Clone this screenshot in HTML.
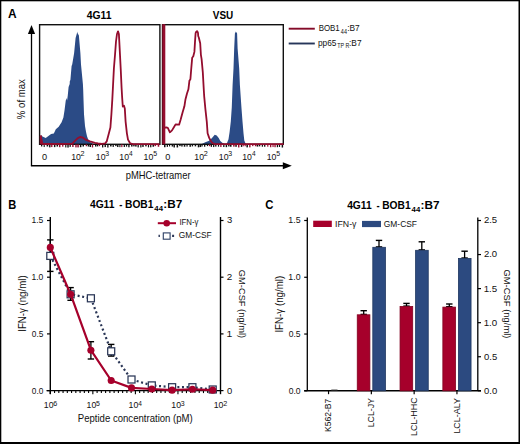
<!DOCTYPE html>
<html><head><meta charset="utf-8"><style>
html,body{margin:0;padding:0;background:#fff;}
body{width:520px;height:444px;overflow:hidden;}
svg{display:block;font-family:'Liberation Sans', sans-serif;}
</style></head><body>
<svg width="520" height="444" viewBox="0 0 520 444">
<rect width="520" height="444" fill="#fff"/>
<rect x="0" y="0" width="520" height="1.3" fill="#000"/>
<rect x="0" y="0" width="1.3" height="444" fill="#000"/>
<rect x="518.5" y="0" width="1.5" height="444" fill="#000"/>
<rect x="0" y="442" width="520" height="2" fill="#000"/>
<text x="8.00" y="18.20" font-size="12.2" font-weight="bold" fill="#000" textLength="8.61" lengthAdjust="spacingAndGlyphs">A</text>
<text x="8.25" y="208.60" font-size="12.2" font-weight="bold" fill="#000" textLength="8.05" lengthAdjust="spacingAndGlyphs">B</text>
<text x="265.14" y="208.70" font-size="12.6" font-weight="bold" fill="#000" textLength="8.17" lengthAdjust="spacingAndGlyphs">C</text>
<text x="86.75" y="18.60" font-size="10" font-weight="bold" fill="#000" textLength="24.73" lengthAdjust="spacingAndGlyphs">4G11</text>
<text x="212.83" y="18.60" font-size="10" font-weight="bold" fill="#000" textLength="20.48" lengthAdjust="spacingAndGlyphs">VSU</text>
<polygon points="41.00,144.30 41.00,135.00 42.50,136.50 45.70,138.00 48.40,136.10 51.10,134.00 53.80,133.40 54.90,131.20 55.80,129.20 58.70,126.80 61.60,122.20 63.40,117.50 64.50,110.40 65.70,101.10 66.30,98.10 67.10,100.50 67.80,95.20 68.60,87.00 69.70,84.00 69.80,81.20 70.40,80.00 71.60,66.00 72.20,64.60 74.10,53.20 75.60,38.00 76.30,35.60 77.00,33.00 77.20,31.60 77.50,33.00 78.90,35.60 79.10,38.00 80.40,53.20 81.00,64.60 82.90,84.00 83.20,90.00 83.50,99.60 84.00,114.30 85.00,126.00 86.00,131.80 87.00,136.20 88.00,139.10 90.00,142.00 93.00,143.80 96.00,144.30" fill="#2b4b86"/>
<polygon points="201.30,144.30 205.30,142.20 209.20,140.70 212.00,137.90 214.70,134.70 216.70,135.50 218.70,137.90 220.30,141.00 222.60,143.00 225.00,144.30" fill="#2b4b86"/>
<polygon points="226.50,144.30 228.50,139.20 229.60,131.90 230.80,121.60 231.80,107.00 232.60,85.00 233.50,68.50 234.20,48.30 234.90,33.50 235.90,31.60 237.10,33.50 237.60,48.30 239.20,68.50 239.90,85.00 241.40,107.00 242.50,121.60 243.50,133.30 244.30,140.60 245.50,143.60 247.00,144.30" fill="#2b4b86"/>
<rect x="39.6" y="24.7" width="120.3" height="119.60" fill="none" stroke="#111" stroke-width="1.4"/>
<rect x="162.5" y="24.7" width="120.8" height="119.60" fill="none" stroke="#111" stroke-width="1.4"/>
<rect x="41.00" y="144.30" width="1.28" height="2.16" fill="#111"/>
<rect x="43.65" y="144.30" width="1.11" height="2.74" fill="#111"/>
<rect x="46.62" y="144.30" width="1.60" height="2.19" fill="#111"/>
<rect x="49.08" y="144.30" width="1.42" height="3.05" fill="#111"/>
<rect x="51.09" y="144.30" width="1.36" height="2.75" fill="#940d2e"/>
<rect x="53.92" y="144.30" width="1.48" height="2.81" fill="#111"/>
<rect x="56.55" y="144.30" width="1.53" height="2.25" fill="#111"/>
<rect x="59.01" y="144.30" width="1.46" height="2.88" fill="#940d2e"/>
<rect x="62.10" y="144.30" width="1.32" height="2.39" fill="#940d2e"/>
<rect x="65.21" y="144.30" width="1.17" height="3.12" fill="#111"/>
<rect x="67.32" y="144.30" width="1.41" height="3.25" fill="#111"/>
<rect x="69.54" y="144.30" width="1.28" height="2.56" fill="#111"/>
<rect x="72.16" y="144.30" width="1.44" height="2.68" fill="#940d2e"/>
<rect x="75.26" y="144.30" width="1.44" height="3.08" fill="#940d2e"/>
<rect x="77.29" y="144.30" width="1.55" height="3.09" fill="#940d2e"/>
<rect x="79.88" y="144.30" width="1.52" height="2.87" fill="#111"/>
<rect x="82.49" y="144.30" width="1.53" height="2.23" fill="#111"/>
<rect x="85.67" y="144.30" width="1.31" height="1.93" fill="#940d2e"/>
<rect x="87.68" y="144.30" width="1.54" height="2.24" fill="#111"/>
<rect x="89.55" y="144.30" width="1.46" height="2.72" fill="#111"/>
<rect x="91.81" y="144.30" width="1.35" height="3.12" fill="#940d2e"/>
<rect x="95.01" y="144.30" width="1.40" height="2.26" fill="#111"/>
<rect x="96.85" y="144.30" width="1.41" height="2.10" fill="#111"/>
<rect x="98.87" y="144.30" width="1.26" height="1.86" fill="#940d2e"/>
<rect x="102.01" y="144.30" width="1.33" height="3.14" fill="#111"/>
<rect x="104.54" y="144.30" width="1.38" height="2.77" fill="#111"/>
<rect x="107.21" y="144.30" width="1.32" height="3.21" fill="#111"/>
<rect x="110.02" y="144.30" width="1.59" height="2.16" fill="#111"/>
<rect x="112.55" y="144.30" width="1.31" height="2.62" fill="#111"/>
<rect x="115.16" y="144.30" width="1.42" height="1.83" fill="#111"/>
<rect x="117.04" y="144.30" width="1.44" height="2.74" fill="#111"/>
<rect x="119.34" y="144.30" width="1.11" height="2.86" fill="#111"/>
<rect x="121.22" y="144.30" width="1.23" height="2.81" fill="#940d2e"/>
<rect x="123.66" y="144.30" width="1.28" height="2.69" fill="#111"/>
<rect x="125.90" y="144.30" width="1.25" height="2.35" fill="#111"/>
<rect x="128.22" y="144.30" width="1.38" height="2.96" fill="#111"/>
<rect x="131.05" y="144.30" width="1.50" height="2.27" fill="#111"/>
<rect x="133.19" y="144.30" width="1.45" height="2.08" fill="#111"/>
<rect x="135.13" y="144.30" width="1.52" height="2.28" fill="#111"/>
<rect x="137.54" y="144.30" width="1.27" height="3.08" fill="#111"/>
<rect x="140.25" y="144.30" width="1.21" height="3.13" fill="#111"/>
<rect x="142.22" y="144.30" width="1.50" height="2.59" fill="#111"/>
<rect x="145.20" y="144.30" width="1.50" height="2.08" fill="#111"/>
<rect x="147.90" y="144.30" width="1.16" height="3.01" fill="#111"/>
<rect x="150.11" y="144.30" width="1.27" height="2.99" fill="#111"/>
<rect x="152.49" y="144.30" width="1.56" height="2.43" fill="#111"/>
<rect x="154.51" y="144.30" width="1.54" height="1.81" fill="#940d2e"/>
<rect x="157.69" y="144.30" width="1.56" height="2.45" fill="#940d2e"/>
<rect x="164.00" y="144.30" width="1.52" height="2.92" fill="#111"/>
<rect x="166.73" y="144.30" width="1.24" height="2.58" fill="#111"/>
<rect x="169.01" y="144.30" width="1.13" height="2.14" fill="#111"/>
<rect x="171.63" y="144.30" width="1.51" height="2.23" fill="#111"/>
<rect x="173.49" y="144.30" width="1.45" height="3.16" fill="#111"/>
<rect x="176.59" y="144.30" width="1.55" height="3.14" fill="#111"/>
<rect x="179.19" y="144.30" width="1.47" height="1.82" fill="#111"/>
<rect x="181.23" y="144.30" width="1.43" height="2.25" fill="#111"/>
<rect x="183.77" y="144.30" width="1.57" height="2.42" fill="#111"/>
<rect x="186.43" y="144.30" width="1.23" height="2.31" fill="#111"/>
<rect x="189.43" y="144.30" width="1.49" height="2.52" fill="#111"/>
<rect x="191.73" y="144.30" width="1.37" height="2.10" fill="#111"/>
<rect x="194.67" y="144.30" width="1.50" height="2.06" fill="#111"/>
<rect x="197.76" y="144.30" width="1.51" height="3.01" fill="#111"/>
<rect x="199.57" y="144.30" width="1.53" height="2.74" fill="#111"/>
<rect x="201.44" y="144.30" width="1.23" height="2.21" fill="#111"/>
<rect x="203.98" y="144.30" width="1.34" height="2.43" fill="#111"/>
<rect x="206.87" y="144.30" width="1.16" height="1.80" fill="#111"/>
<rect x="208.84" y="144.30" width="1.53" height="1.90" fill="#940d2e"/>
<rect x="210.76" y="144.30" width="1.26" height="2.55" fill="#111"/>
<rect x="213.05" y="144.30" width="1.28" height="2.77" fill="#111"/>
<rect x="215.12" y="144.30" width="1.38" height="2.29" fill="#111"/>
<rect x="217.92" y="144.30" width="1.19" height="2.37" fill="#111"/>
<rect x="220.24" y="144.30" width="1.29" height="2.71" fill="#940d2e"/>
<rect x="223.17" y="144.30" width="1.29" height="2.73" fill="#111"/>
<rect x="225.66" y="144.30" width="1.45" height="2.85" fill="#111"/>
<rect x="228.11" y="144.30" width="1.45" height="2.17" fill="#111"/>
<rect x="230.01" y="144.30" width="1.54" height="2.44" fill="#111"/>
<rect x="233.12" y="144.30" width="1.50" height="2.36" fill="#940d2e"/>
<rect x="235.28" y="144.30" width="1.51" height="2.50" fill="#111"/>
<rect x="238.01" y="144.30" width="1.43" height="3.13" fill="#940d2e"/>
<rect x="240.84" y="144.30" width="1.39" height="2.65" fill="#111"/>
<rect x="242.65" y="144.30" width="1.12" height="2.02" fill="#940d2e"/>
<rect x="244.57" y="144.30" width="1.19" height="1.95" fill="#940d2e"/>
<rect x="246.41" y="144.30" width="1.52" height="3.06" fill="#111"/>
<rect x="249.15" y="144.30" width="1.39" height="3.05" fill="#940d2e"/>
<rect x="252.07" y="144.30" width="1.36" height="1.85" fill="#940d2e"/>
<rect x="254.87" y="144.30" width="1.57" height="1.96" fill="#940d2e"/>
<rect x="256.76" y="144.30" width="1.51" height="2.29" fill="#111"/>
<rect x="258.89" y="144.30" width="1.41" height="2.07" fill="#111"/>
<rect x="261.75" y="144.30" width="1.30" height="2.39" fill="#111"/>
<rect x="264.04" y="144.30" width="1.35" height="2.43" fill="#111"/>
<rect x="267.20" y="144.30" width="1.18" height="2.42" fill="#940d2e"/>
<rect x="269.97" y="144.30" width="1.36" height="2.93" fill="#940d2e"/>
<rect x="272.45" y="144.30" width="1.17" height="2.76" fill="#940d2e"/>
<rect x="274.38" y="144.30" width="1.36" height="2.92" fill="#940d2e"/>
<rect x="276.80" y="144.30" width="1.23" height="2.88" fill="#111"/>
<rect x="278.88" y="144.30" width="1.22" height="2.68" fill="#111"/>
<rect x="281.65" y="144.30" width="1.45" height="3.23" fill="#111"/>
<polyline points="40.80,135.50 41.50,143.60 44.00,144.00 72.00,143.90 76.00,139.90 78.00,138.00 80.00,137.00 83.00,137.70 86.00,139.90 90.00,141.30 95.00,142.80 98.00,143.50 102.00,143.90 105.20,143.40 106.70,141.40 108.90,133.30 110.40,127.50 111.40,114.30 112.30,99.60 113.00,86.00 113.90,68.50 115.00,55.00 116.00,41.50 117.00,34.00 118.00,31.40 118.90,34.00 119.30,41.50 120.00,55.00 120.70,68.50 121.60,88.00 122.10,96.70 122.80,106.50 124.00,105.80 124.80,108.40 125.60,121.60 126.90,133.30 128.00,139.60 130.10,143.30 133.00,144.10 159.50,144.10" fill="none" stroke="#940d2e" stroke-width="1.8" stroke-linejoin="round"/>
<polygon points="39.8,136 41.2,135.3 42.3,139.5 43.6,144.3 39.8,144.3" fill="#940d2e"/>
<polyline points="164.60,127.60 166.40,127.40 167.80,127.80 169.90,132.30 172.00,130.40 174.20,126.80 175.60,124.40 179.10,124.70 180.60,119.80 182.70,112.00 184.40,106.30 185.50,99.20 187.00,93.50 188.40,89.30 189.40,80.80 190.40,79.30 191.20,69.20 192.20,57.70 193.30,56.30 194.40,51.90 195.10,40.40 195.60,33.20 196.40,31.50 197.20,31.20 198.00,32.80 198.20,36.00 198.80,37.50 200.20,43.30 200.90,54.80 201.60,59.10 202.80,72.10 203.80,90.00 204.20,96.30 205.40,109.10 206.80,121.90 207.60,133.20 209.20,137.90 210.80,141.00 212.40,143.00 215.00,144.10 283.60,144.10" fill="none" stroke="#940d2e" stroke-width="1.8" stroke-linejoin="round"/>
<rect x="162.1" y="24.2" width="3.2" height="120.10" fill="#940d2e"/>
<rect x="162.1" y="24.2" width="0.9" height="120.10" fill="#5a0818" opacity="0.6"/>
<line x1="31.5" y1="165.8" x2="31.5" y2="31" stroke="#000" stroke-width="1.3"/>
<polygon points="31.5,25.0 27.9,34.0 35.1,34.0" fill="#000"/>
<line x1="30.9" y1="165.8" x2="286" y2="165.8" stroke="#000" stroke-width="1.4"/>
<polygon points="291.8,165.8 282.8,162.3 282.8,169.3" fill="#000"/>
<text transform="translate(25.20 118.80) rotate(-90)" x="-0.34" y="0" font-size="10.2" fill="#111" textLength="39.94" lengthAdjust="spacingAndGlyphs">% of max</text>
<text x="42.04" y="159.50" font-size="8.8" fill="#111" textLength="5.12" lengthAdjust="spacingAndGlyphs">0</text>
<text x="165.34" y="159.50" font-size="8.8" fill="#111" textLength="5.12" lengthAdjust="spacingAndGlyphs">0</text>
<text x="71.14" y="159.50" font-size="8.8" fill="#111" textLength="9.71" lengthAdjust="spacingAndGlyphs">10</text>
<text x="80.64" y="156.28" font-size="6.8" fill="#111" textLength="4.03" lengthAdjust="spacingAndGlyphs">2</text>
<text x="95.79" y="159.50" font-size="8.8" fill="#111" textLength="9.71" lengthAdjust="spacingAndGlyphs">10</text>
<text x="105.38" y="156.28" font-size="6.8" fill="#111" textLength="3.87" lengthAdjust="spacingAndGlyphs">3</text>
<text x="119.29" y="159.50" font-size="8.8" fill="#111" textLength="9.71" lengthAdjust="spacingAndGlyphs">10</text>
<text x="129.00" y="156.28" font-size="6.8" fill="#111" textLength="3.64" lengthAdjust="spacingAndGlyphs">4</text>
<text x="143.59" y="159.50" font-size="8.8" fill="#111" textLength="9.71" lengthAdjust="spacingAndGlyphs">10</text>
<text x="153.17" y="156.28" font-size="6.8" fill="#111" textLength="3.87" lengthAdjust="spacingAndGlyphs">5</text>
<text x="194.34" y="159.50" font-size="8.8" fill="#111" textLength="9.71" lengthAdjust="spacingAndGlyphs">10</text>
<text x="203.84" y="156.28" font-size="6.8" fill="#111" textLength="4.03" lengthAdjust="spacingAndGlyphs">2</text>
<text x="218.79" y="159.50" font-size="8.8" fill="#111" textLength="9.71" lengthAdjust="spacingAndGlyphs">10</text>
<text x="228.38" y="156.28" font-size="6.8" fill="#111" textLength="3.87" lengthAdjust="spacingAndGlyphs">3</text>
<text x="242.24" y="159.50" font-size="8.8" fill="#111" textLength="9.71" lengthAdjust="spacingAndGlyphs">10</text>
<text x="251.95" y="156.28" font-size="6.8" fill="#111" textLength="3.64" lengthAdjust="spacingAndGlyphs">4</text>
<text x="266.69" y="159.50" font-size="8.8" fill="#111" textLength="9.71" lengthAdjust="spacingAndGlyphs">10</text>
<text x="276.27" y="156.28" font-size="6.8" fill="#111" textLength="3.87" lengthAdjust="spacingAndGlyphs">5</text>
<text x="125.69" y="178.50" font-size="10.2" fill="#111" textLength="64.86" lengthAdjust="spacingAndGlyphs">pMHC-tetramer</text>
<line x1="288.7" y1="28.7" x2="314.8" y2="28.7" stroke="#840b29" stroke-width="1.9"/>
<line x1="288.7" y1="43.5" x2="314.8" y2="43.5" stroke="#26365a" stroke-width="1.9"/>
<text x="318.65" y="31.20" font-size="8.8" fill="#111" textLength="21.14" lengthAdjust="spacingAndGlyphs">BOB1</text>
<text x="340.87" y="33.70" font-size="6.4" fill="#111" textLength="6.09" lengthAdjust="spacingAndGlyphs">44</text>
<text x="347.24" y="31.20" font-size="8.8" fill="#111" textLength="12.48" lengthAdjust="spacingAndGlyphs">:B7</text>
<text x="317.96" y="45.60" font-size="8.8" fill="#111" textLength="18.48" lengthAdjust="spacingAndGlyphs">pp65</text>
<text x="337.28" y="47.60" font-size="6.4" fill="#111" textLength="12.06" lengthAdjust="spacingAndGlyphs">TP R</text>
<text x="349.04" y="45.60" font-size="8.8" fill="#111" textLength="12.48" lengthAdjust="spacingAndGlyphs">:B7</text>
<text x="89.95" y="208.30" font-size="10" font-weight="bold" fill="#000" textLength="24.53" lengthAdjust="spacingAndGlyphs">4G11</text>
<text x="119.23" y="208.30" font-size="10" font-weight="bold" fill="#000" textLength="3.15" lengthAdjust="spacingAndGlyphs">-</text>
<text x="125.02" y="208.30" font-size="10" font-weight="bold" fill="#000" textLength="28.37" lengthAdjust="spacingAndGlyphs">BOB1</text>
<text x="154.38" y="211.00" font-size="7.4" font-weight="bold" fill="#000" textLength="8.66" lengthAdjust="spacingAndGlyphs">44</text>
<text x="163.37" y="208.30" font-size="10" font-weight="bold" fill="#000" textLength="18.95" lengthAdjust="spacingAndGlyphs">:B7</text>
<line x1="50.3" y1="217" x2="50.3" y2="394" stroke="#000" stroke-width="1.4"/>
<line x1="220.5" y1="217" x2="220.5" y2="394.20000000000005" stroke="#000" stroke-width="1.4"/>
<line x1="46.5" y1="390.6" x2="221.1" y2="390.6" stroke="#000" stroke-width="1.4"/>
<line x1="47" y1="220.50" x2="50.3" y2="220.50" stroke="#000" stroke-width="1.2"/>
<text x="31.45" y="223.40" font-size="8.8" fill="#111" textLength="11.91" lengthAdjust="spacingAndGlyphs">1.5</text>
<line x1="47" y1="277.20" x2="50.3" y2="277.20" stroke="#000" stroke-width="1.2"/>
<text x="31.45" y="280.10" font-size="8.8" fill="#111" textLength="11.89" lengthAdjust="spacingAndGlyphs">1.0</text>
<line x1="47" y1="333.90" x2="50.3" y2="333.90" stroke="#000" stroke-width="1.2"/>
<text x="31.77" y="336.80" font-size="8.8" fill="#111" textLength="11.57" lengthAdjust="spacingAndGlyphs">0.5</text>
<line x1="47" y1="390.60" x2="50.3" y2="390.60" stroke="#000" stroke-width="1.2"/>
<text x="31.78" y="393.50" font-size="8.8" fill="#111" textLength="11.55" lengthAdjust="spacingAndGlyphs">0.0</text>
<line x1="220.5" y1="390.60" x2="223.5" y2="390.60" stroke="#000" stroke-width="1.2"/>
<text x="226.93" y="393.50" font-size="8.8" fill="#111" textLength="5.24" lengthAdjust="spacingAndGlyphs">0</text>
<line x1="220.5" y1="333.90" x2="223.5" y2="333.90" stroke="#000" stroke-width="1.2"/>
<text x="226.50" y="336.80" font-size="8.8" fill="#111" textLength="5.80" lengthAdjust="spacingAndGlyphs">1</text>
<line x1="220.5" y1="277.20" x2="223.5" y2="277.20" stroke="#000" stroke-width="1.2"/>
<text x="226.80" y="280.10" font-size="8.8" fill="#111" textLength="5.49" lengthAdjust="spacingAndGlyphs">2</text>
<line x1="220.5" y1="220.50" x2="223.5" y2="220.50" stroke="#000" stroke-width="1.2"/>
<text x="226.94" y="223.40" font-size="8.8" fill="#111" textLength="5.28" lengthAdjust="spacingAndGlyphs">3</text>
<line x1="50.30" y1="390.6" x2="50.30" y2="394.20000000000005" stroke="#000" stroke-width="1.1"/>
<line x1="54.55" y1="390.6" x2="54.55" y2="393.1" stroke="#000" stroke-width="1.1"/>
<line x1="58.81" y1="390.6" x2="58.81" y2="393.1" stroke="#000" stroke-width="1.1"/>
<line x1="63.06" y1="390.6" x2="63.06" y2="393.1" stroke="#000" stroke-width="1.1"/>
<line x1="67.32" y1="390.6" x2="67.32" y2="393.1" stroke="#000" stroke-width="1.1"/>
<line x1="71.57" y1="390.6" x2="71.57" y2="393.1" stroke="#000" stroke-width="1.1"/>
<line x1="75.83" y1="390.6" x2="75.83" y2="393.1" stroke="#000" stroke-width="1.1"/>
<line x1="80.08" y1="390.6" x2="80.08" y2="393.1" stroke="#000" stroke-width="1.1"/>
<line x1="84.34" y1="390.6" x2="84.34" y2="393.1" stroke="#000" stroke-width="1.1"/>
<line x1="88.59" y1="390.6" x2="88.59" y2="393.1" stroke="#000" stroke-width="1.1"/>
<line x1="92.85" y1="390.6" x2="92.85" y2="394.20000000000005" stroke="#000" stroke-width="1.1"/>
<line x1="97.10" y1="390.6" x2="97.10" y2="393.1" stroke="#000" stroke-width="1.1"/>
<line x1="101.36" y1="390.6" x2="101.36" y2="393.1" stroke="#000" stroke-width="1.1"/>
<line x1="105.61" y1="390.6" x2="105.61" y2="393.1" stroke="#000" stroke-width="1.1"/>
<line x1="109.87" y1="390.6" x2="109.87" y2="393.1" stroke="#000" stroke-width="1.1"/>
<line x1="114.12" y1="390.6" x2="114.12" y2="393.1" stroke="#000" stroke-width="1.1"/>
<line x1="118.38" y1="390.6" x2="118.38" y2="393.1" stroke="#000" stroke-width="1.1"/>
<line x1="122.63" y1="390.6" x2="122.63" y2="393.1" stroke="#000" stroke-width="1.1"/>
<line x1="126.89" y1="390.6" x2="126.89" y2="393.1" stroke="#000" stroke-width="1.1"/>
<line x1="131.14" y1="390.6" x2="131.14" y2="393.1" stroke="#000" stroke-width="1.1"/>
<line x1="135.40" y1="390.6" x2="135.40" y2="394.20000000000005" stroke="#000" stroke-width="1.1"/>
<line x1="139.65" y1="390.6" x2="139.65" y2="393.1" stroke="#000" stroke-width="1.1"/>
<line x1="143.91" y1="390.6" x2="143.91" y2="393.1" stroke="#000" stroke-width="1.1"/>
<line x1="148.16" y1="390.6" x2="148.16" y2="393.1" stroke="#000" stroke-width="1.1"/>
<line x1="152.42" y1="390.6" x2="152.42" y2="393.1" stroke="#000" stroke-width="1.1"/>
<line x1="156.67" y1="390.6" x2="156.67" y2="393.1" stroke="#000" stroke-width="1.1"/>
<line x1="160.93" y1="390.6" x2="160.93" y2="393.1" stroke="#000" stroke-width="1.1"/>
<line x1="165.18" y1="390.6" x2="165.18" y2="393.1" stroke="#000" stroke-width="1.1"/>
<line x1="169.44" y1="390.6" x2="169.44" y2="393.1" stroke="#000" stroke-width="1.1"/>
<line x1="173.69" y1="390.6" x2="173.69" y2="393.1" stroke="#000" stroke-width="1.1"/>
<line x1="177.95" y1="390.6" x2="177.95" y2="394.20000000000005" stroke="#000" stroke-width="1.1"/>
<line x1="182.20" y1="390.6" x2="182.20" y2="393.1" stroke="#000" stroke-width="1.1"/>
<line x1="186.46" y1="390.6" x2="186.46" y2="393.1" stroke="#000" stroke-width="1.1"/>
<line x1="190.71" y1="390.6" x2="190.71" y2="393.1" stroke="#000" stroke-width="1.1"/>
<line x1="194.97" y1="390.6" x2="194.97" y2="393.1" stroke="#000" stroke-width="1.1"/>
<line x1="199.22" y1="390.6" x2="199.22" y2="393.1" stroke="#000" stroke-width="1.1"/>
<line x1="203.48" y1="390.6" x2="203.48" y2="393.1" stroke="#000" stroke-width="1.1"/>
<line x1="207.73" y1="390.6" x2="207.73" y2="393.1" stroke="#000" stroke-width="1.1"/>
<line x1="211.99" y1="390.6" x2="211.99" y2="393.1" stroke="#000" stroke-width="1.1"/>
<line x1="216.25" y1="390.6" x2="216.25" y2="393.1" stroke="#000" stroke-width="1.1"/>
<text x="43.84" y="408.40" font-size="8.8" fill="#111" textLength="9.71" lengthAdjust="spacingAndGlyphs">10</text>
<text x="53.34" y="405.88" font-size="6.8" fill="#111" textLength="3.98" lengthAdjust="spacingAndGlyphs">6</text>
<text x="86.54" y="408.40" font-size="8.8" fill="#111" textLength="9.71" lengthAdjust="spacingAndGlyphs">10</text>
<text x="96.12" y="405.88" font-size="6.8" fill="#111" textLength="3.87" lengthAdjust="spacingAndGlyphs">5</text>
<text x="128.59" y="408.40" font-size="8.8" fill="#111" textLength="9.71" lengthAdjust="spacingAndGlyphs">10</text>
<text x="138.30" y="405.88" font-size="6.8" fill="#111" textLength="3.64" lengthAdjust="spacingAndGlyphs">4</text>
<text x="171.29" y="408.40" font-size="8.8" fill="#111" textLength="9.71" lengthAdjust="spacingAndGlyphs">10</text>
<text x="180.88" y="405.88" font-size="6.8" fill="#111" textLength="3.87" lengthAdjust="spacingAndGlyphs">3</text>
<text x="213.74" y="408.40" font-size="8.8" fill="#111" textLength="9.71" lengthAdjust="spacingAndGlyphs">10</text>
<text x="223.24" y="405.88" font-size="6.8" fill="#111" textLength="4.03" lengthAdjust="spacingAndGlyphs">2</text>
<text x="77.81" y="422.30" font-size="10.3" fill="#111" textLength="114.98" lengthAdjust="spacingAndGlyphs">Peptide concentration (pM)</text>
<text transform="translate(25.80 330.90) rotate(-90)" x="-0.89" y="0" font-size="10.2" fill="#111" textLength="56.39" lengthAdjust="spacingAndGlyphs">IFN-γ (ng/ml)</text>
<text transform="translate(239.20 270.30) rotate(90)" x="-0.47" y="0" font-size="9.0" fill="#111" textLength="68.25" lengthAdjust="spacingAndGlyphs">GM-CSF (ng/ml)</text>
<polyline points="50.30,255.90 70.60,294.30 90.90,298.30 111.20,351.30 131.51,379.50 151.81,385.40 172.11,387.20 192.41,387.20 212.71,389.50" fill="none" stroke="#2a3656" stroke-width="2.2" stroke-dasharray="2.0 2.6"/>
<line x1="50.30" y1="239.90" x2="50.30" y2="271.40" stroke="#000" stroke-width="1.3"/>
<line x1="47.10" y1="239.90" x2="53.50" y2="239.90" stroke="#000" stroke-width="1.4"/>
<line x1="47.10" y1="271.40" x2="53.50" y2="271.40" stroke="#000" stroke-width="1.4"/>
<line x1="70.60" y1="287.60" x2="70.60" y2="300.30" stroke="#000" stroke-width="1.3"/>
<line x1="67.40" y1="287.60" x2="73.80" y2="287.60" stroke="#000" stroke-width="1.4"/>
<line x1="67.40" y1="300.30" x2="73.80" y2="300.30" stroke="#000" stroke-width="1.4"/>
<line x1="90.90" y1="341.70" x2="90.90" y2="359.00" stroke="#000" stroke-width="1.3"/>
<line x1="87.70" y1="341.70" x2="94.10" y2="341.70" stroke="#000" stroke-width="1.4"/>
<line x1="87.70" y1="359.00" x2="94.10" y2="359.00" stroke="#000" stroke-width="1.4"/>
<line x1="111.20" y1="344.40" x2="111.20" y2="356.10" stroke="#000" stroke-width="1.3"/>
<line x1="108.00" y1="344.40" x2="114.40" y2="344.40" stroke="#000" stroke-width="1.4"/>
<line x1="108.00" y1="356.10" x2="114.40" y2="356.10" stroke="#000" stroke-width="1.4"/>
<rect x="46.80" y="252.40" width="7" height="7" fill="#fff" stroke="#2a3656" stroke-width="1.25"/>
<rect x="67.10" y="290.80" width="7" height="7" fill="#fff" stroke="#2a3656" stroke-width="1.25"/>
<rect x="87.40" y="294.80" width="7" height="7" fill="#fff" stroke="#2a3656" stroke-width="1.25"/>
<rect x="107.70" y="347.80" width="7" height="7" fill="#fff" stroke="#2a3656" stroke-width="1.25"/>
<rect x="128.01" y="376.00" width="7" height="7" fill="#fff" stroke="#2a3656" stroke-width="1.25"/>
<rect x="148.31" y="381.90" width="7" height="7" fill="#fff" stroke="#2a3656" stroke-width="1.25"/>
<rect x="168.61" y="383.70" width="7" height="7" fill="#fff" stroke="#2a3656" stroke-width="1.25"/>
<rect x="188.91" y="383.70" width="7" height="7" fill="#fff" stroke="#2a3656" stroke-width="1.25"/>
<rect x="209.21" y="386.00" width="7" height="7" fill="#fff" stroke="#2a3656" stroke-width="1.25"/>
<polyline points="50.30,247.38 70.60,294.21 90.90,350.23 111.20,380.51 131.51,387.88 151.81,389.01 172.11,390.15 192.41,389.24 212.71,390.15" fill="none" stroke="#a6002b" stroke-width="2.2" stroke-linejoin="round"/>
<circle cx="50.30" cy="247.38" r="3.55" fill="#a6002b"/>
<circle cx="70.60" cy="294.21" r="3.55" fill="#a6002b"/>
<circle cx="90.90" cy="350.23" r="3.55" fill="#a6002b"/>
<circle cx="111.20" cy="380.51" r="3.55" fill="#a6002b"/>
<circle cx="131.51" cy="387.88" r="3.55" fill="#a6002b"/>
<circle cx="151.81" cy="389.01" r="3.55" fill="#a6002b"/>
<circle cx="172.11" cy="390.15" r="3.55" fill="#a6002b"/>
<circle cx="192.41" cy="389.24" r="3.55" fill="#a6002b"/>
<circle cx="212.71" cy="390.15" r="3.55" fill="#a6002b"/>
<line x1="157.8" y1="223.2" x2="176" y2="223.2" stroke="#a6002b" stroke-width="2"/>
<circle cx="166.7" cy="223.2" r="3.3" fill="#a6002b"/>
<text x="179.38" y="225.00" font-size="8.5" fill="#111" textLength="19.05" lengthAdjust="spacingAndGlyphs">IFN-γ</text>
<line x1="158.5" y1="235.8" x2="175" y2="235.8" stroke="#2a3656" stroke-width="2.2" stroke-dasharray="2.0 12.2" stroke-dashoffset="0.6"/>
<rect x="163.3" y="232.9" width="6.8" height="6.3" fill="#fff" stroke="#34466a" stroke-width="1.15"/>
<text x="178.68" y="238.40" font-size="8.5" fill="#111" textLength="32.95" lengthAdjust="spacingAndGlyphs">GM-CSF</text>
<text x="347.15" y="208.90" font-size="10" font-weight="bold" fill="#000" textLength="24.53" lengthAdjust="spacingAndGlyphs">4G11</text>
<text x="376.43" y="208.90" font-size="10" font-weight="bold" fill="#000" textLength="3.15" lengthAdjust="spacingAndGlyphs">-</text>
<text x="382.22" y="208.90" font-size="10" font-weight="bold" fill="#000" textLength="28.37" lengthAdjust="spacingAndGlyphs">BOB1</text>
<text x="411.58" y="211.60" font-size="7.4" font-weight="bold" fill="#000" textLength="8.66" lengthAdjust="spacingAndGlyphs">44</text>
<text x="420.57" y="208.90" font-size="10" font-weight="bold" fill="#000" textLength="18.95" lengthAdjust="spacingAndGlyphs">:B7</text>
<line x1="307.3" y1="217.5" x2="307.3" y2="390.8" stroke="#000" stroke-width="1.3"/>
<line x1="477.8" y1="217.5" x2="477.8" y2="390.8" stroke="#000" stroke-width="1.3"/>
<line x1="304.2" y1="390.8" x2="481.0" y2="390.8" stroke="#000" stroke-width="1.4"/>
<line x1="304.2" y1="220.50" x2="307.3" y2="220.50" stroke="#000" stroke-width="1.2"/>
<text x="288.33" y="223.41" font-size="8.8" fill="#111" textLength="12.24" lengthAdjust="spacingAndGlyphs">1.5</text>
<line x1="304.2" y1="277.27" x2="307.3" y2="277.27" stroke="#000" stroke-width="1.2"/>
<text x="288.33" y="280.17" font-size="8.8" fill="#111" textLength="12.21" lengthAdjust="spacingAndGlyphs">1.0</text>
<line x1="304.2" y1="334.04" x2="307.3" y2="334.04" stroke="#000" stroke-width="1.2"/>
<text x="288.67" y="336.94" font-size="8.8" fill="#111" textLength="11.89" lengthAdjust="spacingAndGlyphs">0.5</text>
<line x1="304.2" y1="390.80" x2="307.3" y2="390.80" stroke="#000" stroke-width="1.2"/>
<text x="288.67" y="393.70" font-size="8.8" fill="#111" textLength="11.87" lengthAdjust="spacingAndGlyphs">0.0</text>
<line x1="477.8" y1="220.51" x2="481.0" y2="220.51" stroke="#000" stroke-width="1.2"/>
<text x="483.92" y="223.41" font-size="8.8" fill="#111" textLength="13.28" lengthAdjust="spacingAndGlyphs">2.5</text>
<line x1="477.8" y1="254.56" x2="481.0" y2="254.56" stroke="#000" stroke-width="1.2"/>
<text x="483.92" y="257.46" font-size="8.8" fill="#111" textLength="13.25" lengthAdjust="spacingAndGlyphs">2.0</text>
<line x1="477.8" y1="288.62" x2="481.0" y2="288.62" stroke="#000" stroke-width="1.2"/>
<text x="483.66" y="291.52" font-size="8.8" fill="#111" textLength="13.55" lengthAdjust="spacingAndGlyphs">1.5</text>
<line x1="477.8" y1="322.68" x2="481.0" y2="322.68" stroke="#000" stroke-width="1.2"/>
<text x="483.66" y="325.58" font-size="8.8" fill="#111" textLength="13.52" lengthAdjust="spacingAndGlyphs">1.0</text>
<line x1="477.8" y1="356.74" x2="481.0" y2="356.74" stroke="#000" stroke-width="1.2"/>
<text x="484.03" y="359.64" font-size="8.8" fill="#111" textLength="13.17" lengthAdjust="spacingAndGlyphs">0.5</text>
<line x1="477.8" y1="390.80" x2="481.0" y2="390.80" stroke="#000" stroke-width="1.2"/>
<text x="484.03" y="393.70" font-size="8.8" fill="#111" textLength="13.14" lengthAdjust="spacingAndGlyphs">0.0</text>
<line x1="328.55" y1="390.8" x2="328.55" y2="394.2" stroke="#000" stroke-width="1.2"/>
<text transform="translate(331.10 431.30) rotate(-90)" x="-0.70" y="0" font-size="8.8" fill="#111" textLength="33.33" lengthAdjust="spacingAndGlyphs">K562-B7</text>
<line x1="371.35" y1="390.8" x2="371.35" y2="394.2" stroke="#000" stroke-width="1.2"/>
<text transform="translate(374.00 426.60) rotate(-90)" x="-0.72" y="0" font-size="8.8" fill="#111" textLength="29.21" lengthAdjust="spacingAndGlyphs">LCL-JY</text>
<line x1="363.70" y1="310.70" x2="363.70" y2="314.40" stroke="#000" stroke-width="1.3"/>
<line x1="360.50" y1="310.70" x2="366.90" y2="310.70" stroke="#000" stroke-width="1.4"/>
<line x1="360.50" y1="314.40" x2="366.90" y2="314.40" stroke="#000" stroke-width="1.4"/>
<line x1="379.00" y1="240.40" x2="379.00" y2="246.90" stroke="#000" stroke-width="1.3"/>
<line x1="375.80" y1="240.40" x2="382.20" y2="240.40" stroke="#000" stroke-width="1.4"/>
<line x1="375.80" y1="246.90" x2="382.20" y2="246.90" stroke="#000" stroke-width="1.4"/>
<rect x="357.25" y="314.80" width="12.65" height="76.00" fill="#a6002b" stroke="#82001f" stroke-width="0.8"/>
<rect x="372.80" y="247.30" width="12.65" height="143.50" fill="#2c4a80" stroke="#203760" stroke-width="0.8"/>
<line x1="414.15" y1="390.8" x2="414.15" y2="394.2" stroke="#000" stroke-width="1.2"/>
<text transform="translate(417.40 435.30) rotate(-90)" x="-0.73" y="0" font-size="8.8" fill="#111" textLength="38.77" lengthAdjust="spacingAndGlyphs">LCL-HHC</text>
<line x1="406.50" y1="303.40" x2="406.50" y2="306.10" stroke="#000" stroke-width="1.3"/>
<line x1="403.30" y1="303.40" x2="409.70" y2="303.40" stroke="#000" stroke-width="1.4"/>
<line x1="403.30" y1="306.10" x2="409.70" y2="306.10" stroke="#000" stroke-width="1.4"/>
<line x1="421.80" y1="241.80" x2="421.80" y2="249.90" stroke="#000" stroke-width="1.3"/>
<line x1="418.60" y1="241.80" x2="425.00" y2="241.80" stroke="#000" stroke-width="1.4"/>
<line x1="418.60" y1="249.90" x2="425.00" y2="249.90" stroke="#000" stroke-width="1.4"/>
<rect x="400.05" y="306.50" width="12.65" height="84.30" fill="#a6002b" stroke="#82001f" stroke-width="0.8"/>
<rect x="415.60" y="250.30" width="12.65" height="140.50" fill="#2c4a80" stroke="#203760" stroke-width="0.8"/>
<line x1="456.95" y1="390.8" x2="456.95" y2="394.2" stroke="#000" stroke-width="1.2"/>
<text transform="translate(460.00 432.90) rotate(-90)" x="-0.72" y="0" font-size="8.8" fill="#111" textLength="35.61" lengthAdjust="spacingAndGlyphs">LCL-ALY</text>
<line x1="449.30" y1="304.00" x2="449.30" y2="306.70" stroke="#000" stroke-width="1.3"/>
<line x1="446.10" y1="304.00" x2="452.50" y2="304.00" stroke="#000" stroke-width="1.4"/>
<line x1="446.10" y1="306.70" x2="452.50" y2="306.70" stroke="#000" stroke-width="1.4"/>
<line x1="464.60" y1="251.20" x2="464.60" y2="258.00" stroke="#000" stroke-width="1.3"/>
<line x1="461.40" y1="251.20" x2="467.80" y2="251.20" stroke="#000" stroke-width="1.4"/>
<line x1="461.40" y1="258.00" x2="467.80" y2="258.00" stroke="#000" stroke-width="1.4"/>
<rect x="442.85" y="307.10" width="12.65" height="83.70" fill="#a6002b" stroke="#82001f" stroke-width="0.8"/>
<rect x="458.40" y="258.40" width="12.65" height="132.40" fill="#2c4a80" stroke="#203760" stroke-width="0.8"/>
<rect x="331.3" y="389.6" width="6.2" height="1.3" fill="#222"/>
<rect x="313.2" y="220.7" width="18.6" height="6.3" fill="#a6002b"/>
<text x="335.09" y="226.70" font-size="8.3" fill="#111" textLength="21.34" lengthAdjust="spacingAndGlyphs">IFN-γ</text>
<rect x="362.0" y="220.9" width="19.0" height="6.2" fill="#2c4a80"/>
<text x="383.78" y="226.70" font-size="8.3" fill="#111" textLength="33.26" lengthAdjust="spacingAndGlyphs">GM-CSF</text>
<text transform="translate(282.60 331.70) rotate(-90)" x="-0.90" y="0" font-size="10.2" fill="#111" textLength="56.80" lengthAdjust="spacingAndGlyphs">IFN-γ (ng/ml)</text>
<text transform="translate(504.20 269.90) rotate(90)" x="-0.47" y="0" font-size="9.0" fill="#111" textLength="69.06" lengthAdjust="spacingAndGlyphs">GM-CSF (ng/ml)</text>
</svg>
</body></html>
